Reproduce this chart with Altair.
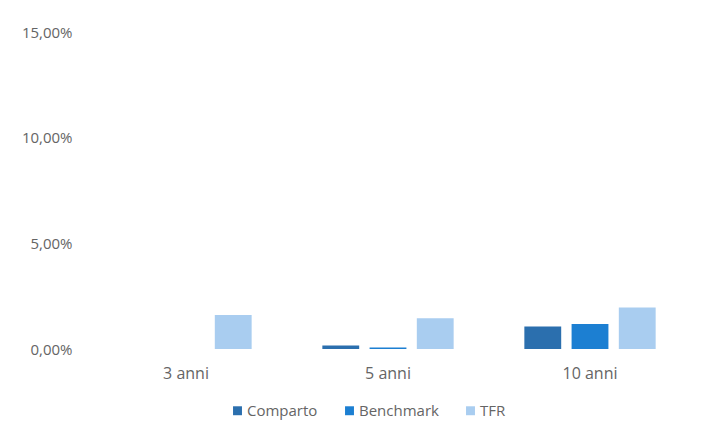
import altair as alt
import pandas as pd

periods = ["3 anni", "5 anni", "10 anni"]
series = ["Comparto", "Benchmark", "TFR"]
comparto = [None, 0.17, 1.06]
benchmark = [None, 0.07, 1.18]
tfr = [1.61, 1.45, 1.96]
colors = ["#2b6fae", "#1c7fd2", "#a9cdf0"]

rows = []
for i, p in enumerate(periods):
    for s, vals in zip(series, [comparto, benchmark, tfr]):
        if vals[i] is not None:
            rows.append({"period": p, "series": s, "value": vals[i]})
df = pd.DataFrame(rows)

FONT = "Open Sans"
GREY = "#656565"

chart = alt.Chart(df).mark_bar().encode(
    x=alt.X("period:N", sort=periods, title=None,
            scale=alt.Scale(paddingInner=0.35, paddingOuter=0.17),
            axis=alt.Axis(labelAngle=0, domain=False, ticks=False, labelPadding=16,
                          labelFont=FONT, labelFontSize=16, labelColor=GREY)),
    xOffset=alt.XOffset("series:N", sort=series,
                        scale=alt.Scale(domain=series, paddingInner=0.22, paddingOuter=0)),
    y=alt.Y("value:Q", title=None,
            scale=alt.Scale(domain=[0, 15], nice=False),
            axis=alt.Axis(values=[0, 5, 10, 15], domain=False, ticks=False, grid=False,
                          labelPadding=14, labelFont=FONT, labelFontSize=15, labelColor=GREY,
                          labelExpr="replace(format(datum.value, '.2f'), '.', ',') + '%'")),
    color=alt.Color("series:N", sort=series,
                    scale=alt.Scale(domain=series, range=colors),
                    legend=alt.Legend(title=None, orient="none", direction="horizontal",
                                      legendX=144, legendY=371, symbolType="square",
                                      symbolSize=80, symbolStrokeWidth=0,
                                      labelFont=FONT, labelFontSize=15, labelColor=GREY,
                                      columnPadding=24, labelOffset=2)),
).properties(
    width=604, height=317,
    background="white",
    autosize=alt.AutoSizeParams(type="none"),
    padding={"left": 78, "top": 24, "right": 6, "bottom": 77},
).configure_view(stroke=None)

chart.save("out.html", embed_options={"renderer": "svg", "actions": False})
